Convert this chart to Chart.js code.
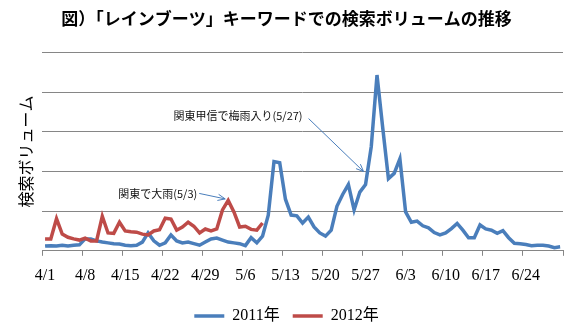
<!DOCTYPE html>
<html>
<head>
<meta charset="utf-8">
<script src="https://cdn.jsdelivr.net/npm/chart.js@4/dist/chart.umd.min.js"></script>
<style>
  html, body { margin: 0; padding: 0; background: #fff; }
</style>
</head>
<body>
<canvas id="chart" width="581" height="332"></canvas>
<script>
// days 4/1 .. 6/30
var months = [[4, 30], [5, 31], [6, 30]]
var days = []
months.forEach(function (m) {
  for (var d = 1; d <= m[1]; d++) days.push(m[0] + '/' + d)
})

var weekLabels = ['4/1', '4/8', '4/15', '4/22', '4/29', '5/6', '5/13', '5/20', '5/27', '6/3', '6/10', '6/17', '6/24']

var seriesNames = ['2011年', '2012年']

var volume2011 = [
  0.12, 0.13, 0.12, 0.14, 0.12, 0.14, 0.15,
  0.30, 0.30, 0.25, 0.22, 0.20, 0.18, 0.17,
  0.14, 0.13, 0.14, 0.22, 0.45, 0.25, 0.14,
  0.20, 0.40, 0.25, 0.20, 0.22, 0.18, 0.14,
  0.22, 0.30, 0.32, 0.27, 0.22, 0.20, 0.18,
  0.13, 0.33, 0.20, 0.37, 0.90, 2.25, 2.22,
  1.30, 0.90, 0.88, 0.70, 0.85, 0.60, 0.45,
  0.37, 0.52, 1.12, 1.42, 1.67, 1.03, 1.48,
  1.67, 2.63, 4.43, 3.10, 1.82, 1.95, 2.32,
  0.98, 0.72, 0.75, 0.63, 0.58, 0.46, 0.40,
  0.45, 0.56, 0.69, 0.52, 0.33, 0.33, 0.65,
  0.55, 0.52, 0.44, 0.51, 0.33, 0.19, 0.18,
  0.16, 0.13, 0.14, 0.14, 0.12, 0.08, 0.10
]

var volume2012 = [
  0.30, 0.30, 0.81, 0.42, 0.34, 0.30, 0.27,
  0.32, 0.25, 0.25, 0.87, 0.45, 0.44, 0.72,
  0.50, 0.48, 0.47, 0.42, 0.40, 0.50, 0.53,
  0.82, 0.80, 0.52, 0.60, 0.72, 0.62, 0.45,
  0.55, 0.50, 0.55, 1.03, 1.27, 0.98, 0.60,
  0.62, 0.54, 0.52, 0.70
]

var notes = [
  { text: '関東で大雨(5/3)', series: volume2012, day: '5/3' },
  { text: '関東甲信で梅雨入り(5/27)', series: volume2011, day: '5/27' }
]

var blue = '#4a7ebb'
var red = '#be4b48'
var gridGrey = '#868686'
var serif = "'Liberation Serif', 'Noto Sans CJK JP', serif"
var gothic = "'Noto Sans CJK JP', sans-serif"

function drawArrow (ctx, x1, y1, x2, y2) {
  var a = Math.atan2(y2 - y1, x2 - x1)
  var len = 8
  ctx.beginPath()
  ctx.moveTo(x1, y1)
  ctx.lineTo(x2, y2)
  ctx.moveTo(x2 - len * Math.cos(a - 0.4), y2 - len * Math.sin(a - 0.4))
  ctx.lineTo(x2, y2)
  ctx.lineTo(x2 - len * Math.cos(a + 0.4), y2 - len * Math.sin(a + 0.4))
  ctx.stroke()
}

// text + arrow placed relative to the data point the note is about
var noteOffsets = [
  { tx: -31, ty: -7, ax: -29, ay: -7, bx: -3, by: -1.5 },
  { tx: -63, ty: -69, ax: -57, ay: -66, bx: -2, by: -13 }
]

var notesPlugin = {
  id: 'notes',
  afterDatasetsDraw: function (chart) {
    var ctx = chart.ctx
    var xs = chart.scales.x
    var ys = chart.scales.y
    ctx.save()
    notes.forEach(function (n, i) {
      var idx = days.indexOf(n.day)
      var px = xs.getPixelForValue(idx)
      var py = ys.getPixelForValue(n.series[idx])
      var o = noteOffsets[i]
      ctx.font = '11px ' + gothic
      ctx.fillStyle = '#111'
      ctx.textAlign = 'right'
      ctx.textBaseline = 'middle'
      ctx.fillText(n.text, px + o.tx, py + o.ty)
      ctx.strokeStyle = blue
      ctx.lineWidth = 1
      drawArrow(ctx, px + o.ax, py + o.ay, px + o.bx, py + o.by)
    })
    ctx.restore()
  }
}

var chart = new Chart(document.getElementById('chart'), {
  type: 'line',
  data: {
    labels: days,
    datasets: [
      {
        label: seriesNames[0],
        data: volume2011,
        borderColor: blue,
        backgroundColor: blue,
        borderWidth: 3.5,
        pointRadius: 0,
        tension: 0,
        order: 2
      },
      {
        label: seriesNames[1],
        data: volume2012,
        borderColor: red,
        backgroundColor: red,
        borderWidth: 3.5,
        pointRadius: 0,
        tension: 0,
        order: 1
      }
    ]
  },
  options: {
    responsive: false,
    animation: false,
    layout: { padding: { left: 10, right: 18, top: 0, bottom: -2 } },
    plugins: {
      title: {
        display: true,
        text: '図）「レインブーツ」キーワードでの検索ボリュームの推移',
        color: '#000',
        font: { family: gothic, size: 17, weight: 'bold' },
        padding: { top: 8, bottom: 24 }
      },
      legend: {
        position: 'bottom',
        labels: {
          usePointStyle: true,
          pointStyle: 'line',
          pointStyleWidth: 30,
          padding: 13,
          color: '#000',
          font: { family: serif, size: 16 },
          sort: function (a, b) { return a.datasetIndex - b.datasetIndex }
        }
      },
      tooltip: { enabled: false }
    },
    scales: {
      x: {
        offset: true,
        border: { color: gridGrey },
        grid: {
          offset: true,
          drawOnChartArea: false,
          drawTicks: true,
          tickLength: 5,
          color: function (c) {
            return (c.index === undefined || c.index % 7 === 0) ? gridGrey : 'rgba(0,0,0,0)'
          }
        },
        ticks: {
          autoSkip: false,
          maxRotation: 0,
          padding: 10,
          color: '#000',
          font: { family: serif, size: 16 },
          callback: function (v, i) {
            var l = days[i]
            return weekLabels.indexOf(l) >= 0 ? l : ''
          }
        }
      },
      y: {
        min: 0,
        max: 5,
        border: { display: false },
        grid: { color: gridGrey, drawTicks: false },
        ticks: { display: false, stepSize: 1 },
        title: {
          display: true,
          text: '検索ボリューム',
          color: '#000',
          font: { family: gothic, size: 16 },
          padding: { top: 6, bottom: 7 }
        }
      }
    }
  },
  plugins: [notesPlugin]
})
</script>
</body>
</html>
